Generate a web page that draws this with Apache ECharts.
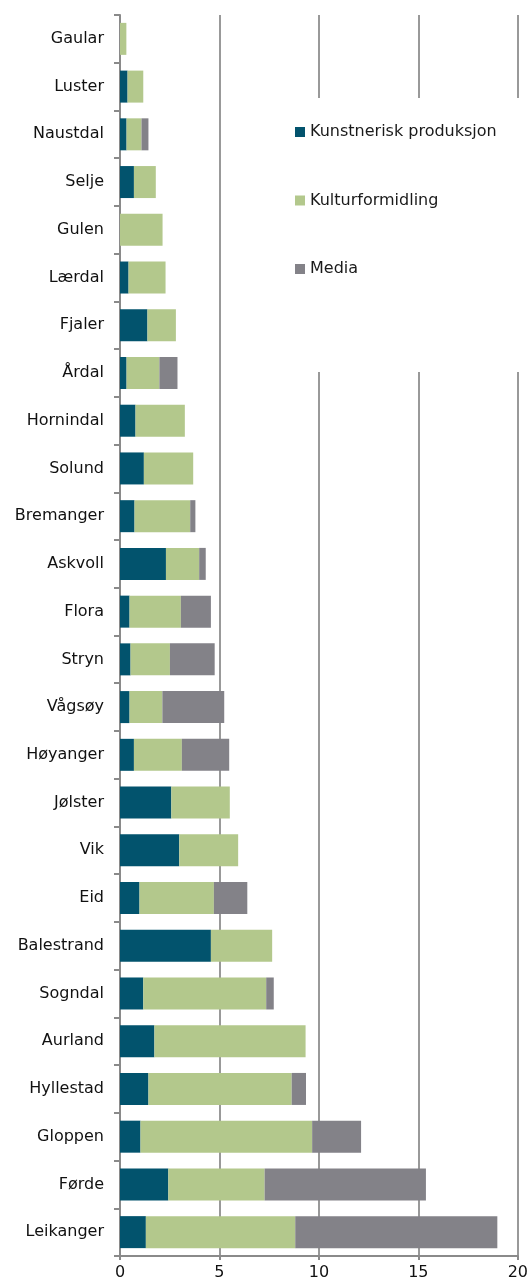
<!DOCTYPE html>
<html>
<head>
<meta charset="utf-8">
<script src="https://cdn.jsdelivr.net/npm/echarts@6/dist/echarts.min.js"></script>
<style>
html,body{margin:0;padding:0;background:#fff;}
#chart{width:531px;height:1286px;}
</style>
</head>
<body>
<div id="chart"></div>
<script>
const categories = ["Gaular","Luster","Naustdal","Selje","Gulen","Lærdal","Fjaler","Årdal","Hornindal","Solund","Bremanger","Askvoll","Flora","Stryn","Vågsøy","Høyanger","Jølster","Vik","Eid","Balestrand","Sogndal","Aurland","Hyllestad","Gloppen","Førde","Leikanger"];
const kunstnerisk = [0,0.38,0.33,0.70,0,0.43,1.38,0.33,0.78,1.20,0.73,2.31,0.48,0.53,0.48,0.70,2.58,2.98,0.98,4.57,1.17,1.73,1.43,1.03,2.43,1.30];
const kulturformidling = [0.32,0.79,0.75,1.10,2.14,1.86,1.43,1.65,2.48,2.48,2.80,1.67,2.58,1.98,1.65,2.41,2.94,2.96,3.74,3.08,6.18,7.60,7.20,8.63,4.84,7.51];
const media = [0,0,0.35,0,0,0,0,0.91,0,0,0.26,0.33,1.51,2.25,3.11,2.38,0,0,1.68,0,0.38,0,0.72,2.46,8.11,10.16];
const seriesNames = ["Kunstnerisk produksjon","Kulturformidling","Media"];
const xTicks = [0,5,10,15,20];

const FONT = "DejaVu Sans";
const chart = echarts.init(document.getElementById('chart'));
chart.setOption({
  animation: false,
  backgroundColor: '#fff',
  textStyle: {fontFamily: FONT},
  grid: {left: 120, right: 10, top: 15, bottom: 30, containLabel: false},
  legend: {
    orient: 'vertical',
    left: 285, top: 98,
    padding: [24, 40, 93, 10],
    backgroundColor: '#fff',
    itemWidth: 10, itemHeight: 10,
    itemGap: 48.5,
    icon: 'rect',
    data: seriesNames,
    textStyle: {fontFamily: FONT, fontSize: 16, color: '#1a1a1a', lineHeight: 20}
  },
  xAxis: {
    type: 'value', min: xTicks[0], max: xTicks[xTicks.length-1], interval: 5,
    axisLine: {show: true, lineStyle: {color: '#8a8a8a', width: 2}},
    axisTick: {show: true, length: 4, lineStyle: {color: '#8a8a8a', width: 2}},
    axisLabel: {fontFamily: FONT, fontSize: 16, color: '#111', margin: 9},
    splitLine: {show: true, lineStyle: {color: '#999', width: 2}}
  },
  yAxis: {
    type: 'category', data: categories, inverse: true,
    axisLine: {show: true, lineStyle: {color: '#8a8a8a', width: 2}},
    axisTick: {show: true, length: 6, lineStyle: {color: '#8a8a8a', width: 2}},
    axisLabel: {fontFamily: FONT, fontSize: 16, color: '#111', margin: 16},
    splitLine: {show: false}
  },
  series: [
    {name: seriesNames[0], type: 'bar', stack: 'total', data: kunstnerisk, barWidth: 32, itemStyle: {color: '#02536D'}},
    {name: seriesNames[1], type: 'bar', stack: 'total', data: kulturformidling, barWidth: 32, itemStyle: {color: '#B3C88C'}},
    {name: seriesNames[2], type: 'bar', stack: 'total', data: media, barWidth: 32, itemStyle: {color: '#838288'}}
  ]
});
</script>
</body>
</html>
